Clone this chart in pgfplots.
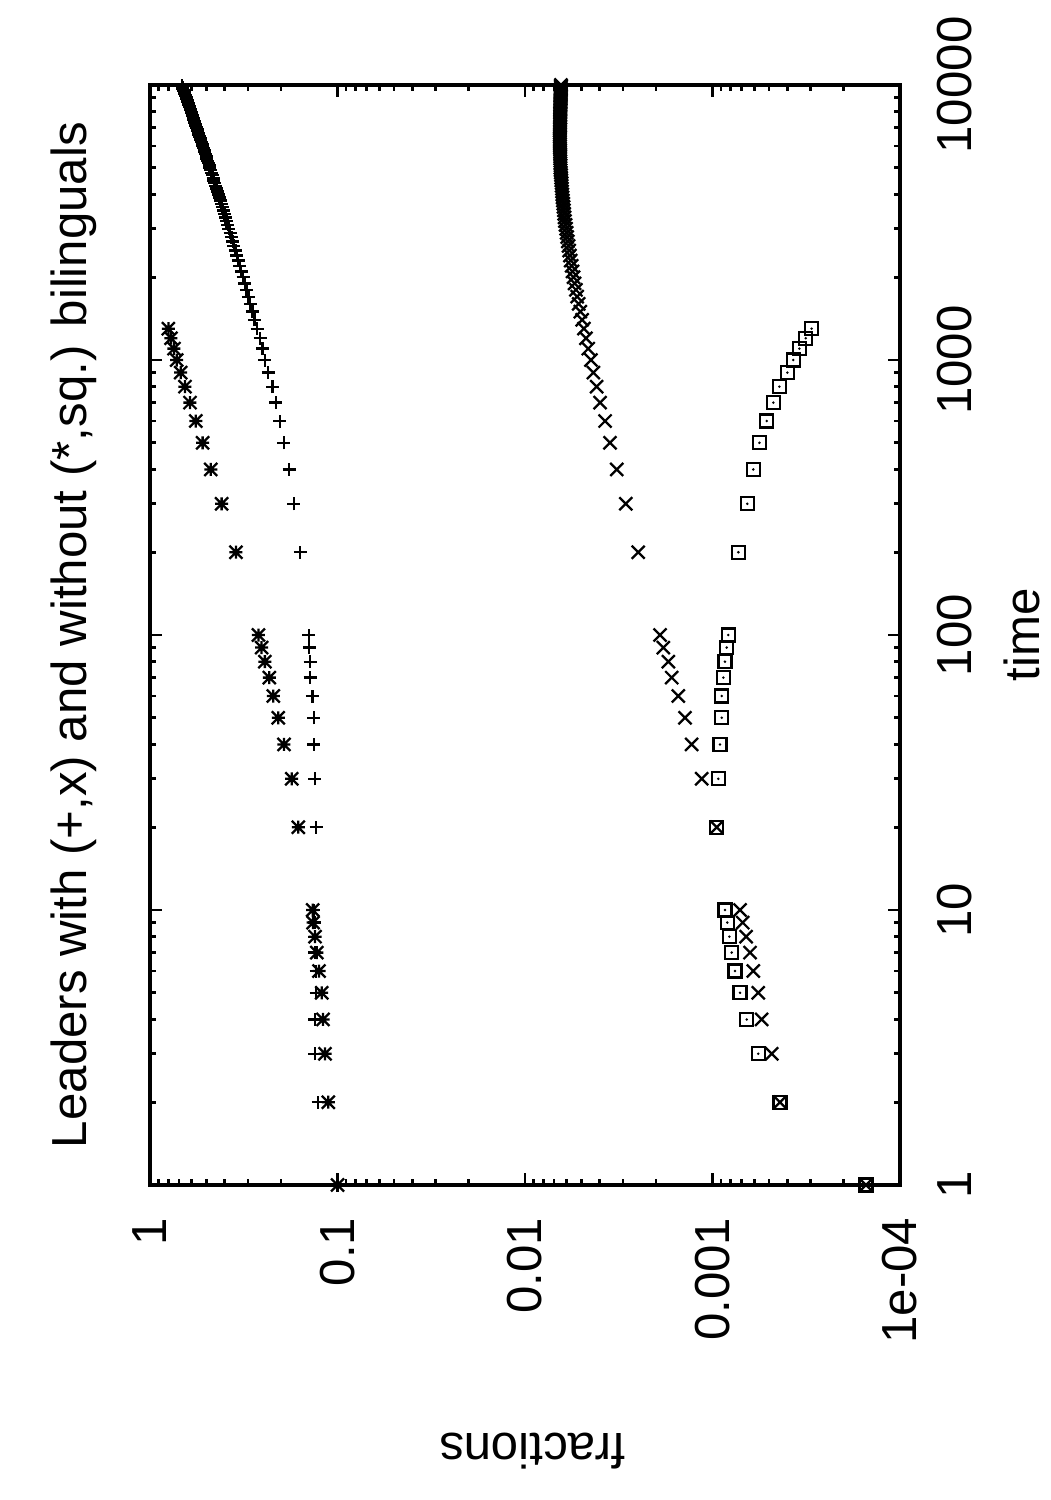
\documentclass[border=0pt]{standalone}
\usepackage{fontspec}
\setmainfont{Liberation Sans}
\usepackage{pgfplots}
\usepackage{pgfplotstable}
\pgfplotsset{compat=1.18}
\pgfdeclareplotmark{gpcross}{%
  \pgfpathmoveto{\pgfqpoint{-\pgfplotmarksize}{-\pgfplotmarksize}}\pgfpathlineto{\pgfqpoint{\pgfplotmarksize}{\pgfplotmarksize}}%
  \pgfpathmoveto{\pgfqpoint{-\pgfplotmarksize}{\pgfplotmarksize}}\pgfpathlineto{\pgfqpoint{\pgfplotmarksize}{-\pgfplotmarksize}}%
  \pgfusepathqstroke}
\pgfdeclareplotmark{gpstar}{%
  \pgfpathmoveto{\pgfqpoint{-\pgfplotmarksize}{0pt}}\pgfpathlineto{\pgfqpoint{\pgfplotmarksize}{0pt}}%
  \pgfpathmoveto{\pgfqpoint{0pt}{-\pgfplotmarksize}}\pgfpathlineto{\pgfqpoint{0pt}{\pgfplotmarksize}}%
  \pgfpathmoveto{\pgfqpoint{-\pgfplotmarksize}{-\pgfplotmarksize}}\pgfpathlineto{\pgfqpoint{\pgfplotmarksize}{\pgfplotmarksize}}%
  \pgfpathmoveto{\pgfqpoint{-\pgfplotmarksize}{\pgfplotmarksize}}\pgfpathlineto{\pgfqpoint{\pgfplotmarksize}{-\pgfplotmarksize}}%
  \pgfusepathqstroke}
\pgfdeclareplotmark{gpbox}{%
  \pgfpathrectangle{\pgfqpoint{-\pgfplotmarksize}{-\pgfplotmarksize}}{\pgfqpoint{2\pgfplotmarksize}{2\pgfplotmarksize}}%
  \pgfusepathqstroke
  \pgfpathcircle{\pgfpointorigin}{0.4pt}\pgfusepathqfill}

% leaders with bilinguals (+)
\pgfplotstableread{
t f
1 0.100
2 0.127
3 0.132
4 0.132
5 0.130
6 0.130
7 0.132
8 0.132
9 0.132
10 0.134
20 0.130
30 0.132
40 0.134
50 0.134
60 0.136
70 0.140
80 0.140
90 0.1414
100 0.142
200 0.158
300 0.171
400 0.181
500 0.193
600 0.203
700 0.213
800 0.222
900 0.234
1000 0.244
1100 0.251
1200 0.259
1300 0.268
1400 0.2767
1500 0.2842
1600 0.2917
1700 0.2987
1800 0.3057
1900 0.3125
2000 0.3192
2100 0.3257
2200 0.3320
2300 0.3383
2400 0.3445
2500 0.3505
2600 0.3565
2700 0.3624
2800 0.3681
2900 0.3738
3000 0.3794
3100 0.3850
3200 0.3904
3300 0.3958
3400 0.4012
3500 0.4064
3600 0.4116
3700 0.4168
3800 0.4219
3900 0.4269
4000 0.4319
4100 0.4368
4200 0.4418
4300 0.4466
4400 0.4514
4500 0.4562
4600 0.4609
4700 0.4656
4800 0.4702
4900 0.4748
5000 0.4794
5100 0.4840
5200 0.4885
5300 0.4929
5400 0.4974
5500 0.5018
5600 0.5062
5700 0.5106
5800 0.5149
5900 0.5191
6000 0.5234
6100 0.5277
6200 0.5319
6300 0.5361
6400 0.5402
6500 0.5444
6600 0.5485
6700 0.5526
6800 0.5567
6900 0.5607
7000 0.5647
7100 0.5688
7200 0.5728
7300 0.5767
7400 0.5807
7500 0.5846
7600 0.5885
7700 0.5924
7800 0.5963
7900 0.6001
8000 0.6040
8100 0.6078
8200 0.6116
8300 0.6154
8400 0.6192
8500 0.6230
8600 0.6268
8700 0.6305
8800 0.6342
8900 0.6379
9000 0.6416
9100 0.6453
9200 0.6489
9300 0.6526
9400 0.6562
9500 0.6598
9600 0.6634
9700 0.6670
9800 0.6706
9900 0.6741
10000 0.6776
}\plusdata

% with bilinguals (x)
\pgfplotstableread{
t f
1 0.000152
2 0.000437
3 0.000483
4 0.000547
5 0.000570
6 0.000606
7 0.000631
8 0.000662
9 0.000690
10 0.000713
20 0.000950
30 0.001142
40 0.001292
50 0.001402
60 0.001522
70 0.00165
80 0.00172
90 0.00183
100 0.001905
200 0.00249
300 0.00290
400 0.00324
500 0.00352
600 0.00374
700 0.00398
800 0.00415
900 0.00432
1000 0.00445
1100 0.00460
1200 0.00473
1300 0.00485
1400 0.00496
1500 0.00507
1600 0.00517
1700 0.00527
1800 0.00535
1900 0.00544
2000 0.00551
2100 0.00558
2200 0.00564
2300 0.00570
2400 0.00576
2500 0.00581
2600 0.00586
2700 0.00591
2800 0.00596
2900 0.00600
3000 0.00604
3100 0.00608
3200 0.00612
3300 0.00615
3400 0.00618
3500 0.00620
3600 0.00623
3700 0.00625
3800 0.00628
3900 0.00630
4000 0.00632
4100 0.00634
4200 0.00635
4300 0.00637
4400 0.00638
4500 0.00640
4600 0.00641
4700 0.00643
4800 0.00644
4900 0.00646
5000 0.00647
5100 0.00647
5200 0.00648
5300 0.00648
5400 0.00649
5500 0.00649
5600 0.00649
5700 0.00650
5800 0.00650
5900 0.00651
6000 0.00651
6100 0.00651
6200 0.00652
6300 0.00652
6400 0.00652
6500 0.00652
6600 0.00651
6700 0.00651
6800 0.00651
6900 0.00651
7000 0.00651
7100 0.00650
7200 0.00650
7300 0.00650
7400 0.00650
7500 0.00650
7600 0.00649
7700 0.00649
7800 0.00649
7900 0.00649
8000 0.00649
8100 0.00648
8200 0.00648
8300 0.00648
8400 0.00648
8500 0.00647
8600 0.00647
8700 0.00647
8800 0.00646
8900 0.00646
9000 0.00646
9100 0.00645
9200 0.00645
9300 0.00645
9400 0.00645
9500 0.00644
9600 0.00644
9700 0.00644
9800 0.00644
9900 0.00643
10000 0.00643
}\crossdata

% leaders without bilinguals (*)
\pgfplotstableread{
t f
1 0.100
2 0.112
3 0.1166
4 0.1195
5 0.1214
6 0.1255
7 0.129
8 0.1318
9 0.135
10 0.1356
20 0.1618
30 0.1755
40 0.193
50 0.207
60 0.220
70 0.231
80 0.244
90 0.254
100 0.264
200 0.348
300 0.415
400 0.474
500 0.524
600 0.570
700 0.612
800 0.651
900 0.686
1000 0.721
1100 0.745
1200 0.773
1300 0.798
}\stardata

% without bilinguals (sq.)
\pgfplotstableread{
t f
1 0.000152
2 0.000437
3 0.000570
4 0.000657
5 0.000713
6 0.000759
7 0.000790
8 0.000813
9 0.000834
10 0.000858
20 0.000950
30 0.000931
40 0.000912
50 0.000893
60 0.000893
70 0.000875
80 0.000858
90 0.000840
100 0.000824
200 0.000728
300 0.000652
400 0.000606
500 0.000562
600 0.000514
700 0.000474
800 0.000440
900 0.000399
1000 0.000371
1100 0.000344
1200 0.000318
1300 0.000296
}\boxdata

\begin{document}
\begin{tikzpicture}
\begin{scope}[rotate=90, transform shape]
\begin{axis}[
  at={(0,0)}, anchor=south west,
  scale only axis, width=110mm, height=75mm,
  xmode=log, ymode=log,
  xmin=1, xmax=10000, ymin=1e-4, ymax=1,
  clip=false,
  axis line style={line width=1pt},
  every tick/.style={line width=0.8pt, black},
  tick align=inside,
  major tick length=1.2mm, minor tick length=0.6mm,
  xtick={1,10,100,1000,10000},
  xticklabels={1,10,100,1000,10000},
  minor xtick={2,3,4,5,6,7,8,9,20,30,40,50,60,70,80,90,200,300,400,500,600,700,800,900,2000,3000,4000,5000,6000,7000,8000,9000},
  ytick={1e-4,1e-3,1e-2,1e-1,1},
  yticklabels={1e-04,0.001,0.01,0.1,1},
  minor ytick={2e-4,3e-4,4e-4,5e-4,6e-4,7e-4,8e-4,9e-4,2e-3,3e-3,4e-3,5e-3,6e-3,7e-3,8e-3,9e-3,0.02,0.03,0.04,0.05,0.06,0.07,0.08,0.09,0.2,0.3,0.4,0.5,0.6,0.7,0.8,0.9},
  every tick label/.append style={font=\fontsize{14}{16}\selectfont},
  xticklabel style={anchor=center, yshift=-5.5mm},
  yticklabel style={anchor=east, inner sep=0pt, xshift=-3.2mm},
  title={Leaders with (+,x) and without (*,sq.) bilinguals},
  title style={font=\fontsize{14}{16}\selectfont, at={(0.5,1.073)}, anchor=center},
  xlabel={time},
  xlabel style={font=\fontsize{14}{16}\selectfont, at={(0.5,-0.163)}, anchor=center},
  ylabel={fractions},
  ylabel style={font=\fontsize{14}{16}\selectfont, at={(-0.242,0.49)}, anchor=center},
]
\addplot[only marks, mark=+, mark size=0.65mm, line width=0.65pt, black] table[x=t,y=f] {\plusdata};
\addplot[only marks, mark=gpcross, mark size=0.65mm, line width=0.65pt, black] table[x=t,y=f] {\crossdata};
\addplot[only marks, mark=gpstar, mark size=0.65mm, line width=0.65pt, black] table[x=t,y=f] {\stardata};
\addplot[only marks, mark=gpbox, mark size=0.65mm, line width=0.65pt, black] table[x=t,y=f] {\boxdata};
\end{axis}
\end{scope}
\pgfresetboundingbox
\useasboundingbox (-90mm,-31.5mm) rectangle (15mm,118.5mm);
\end{tikzpicture}
\end{document}
